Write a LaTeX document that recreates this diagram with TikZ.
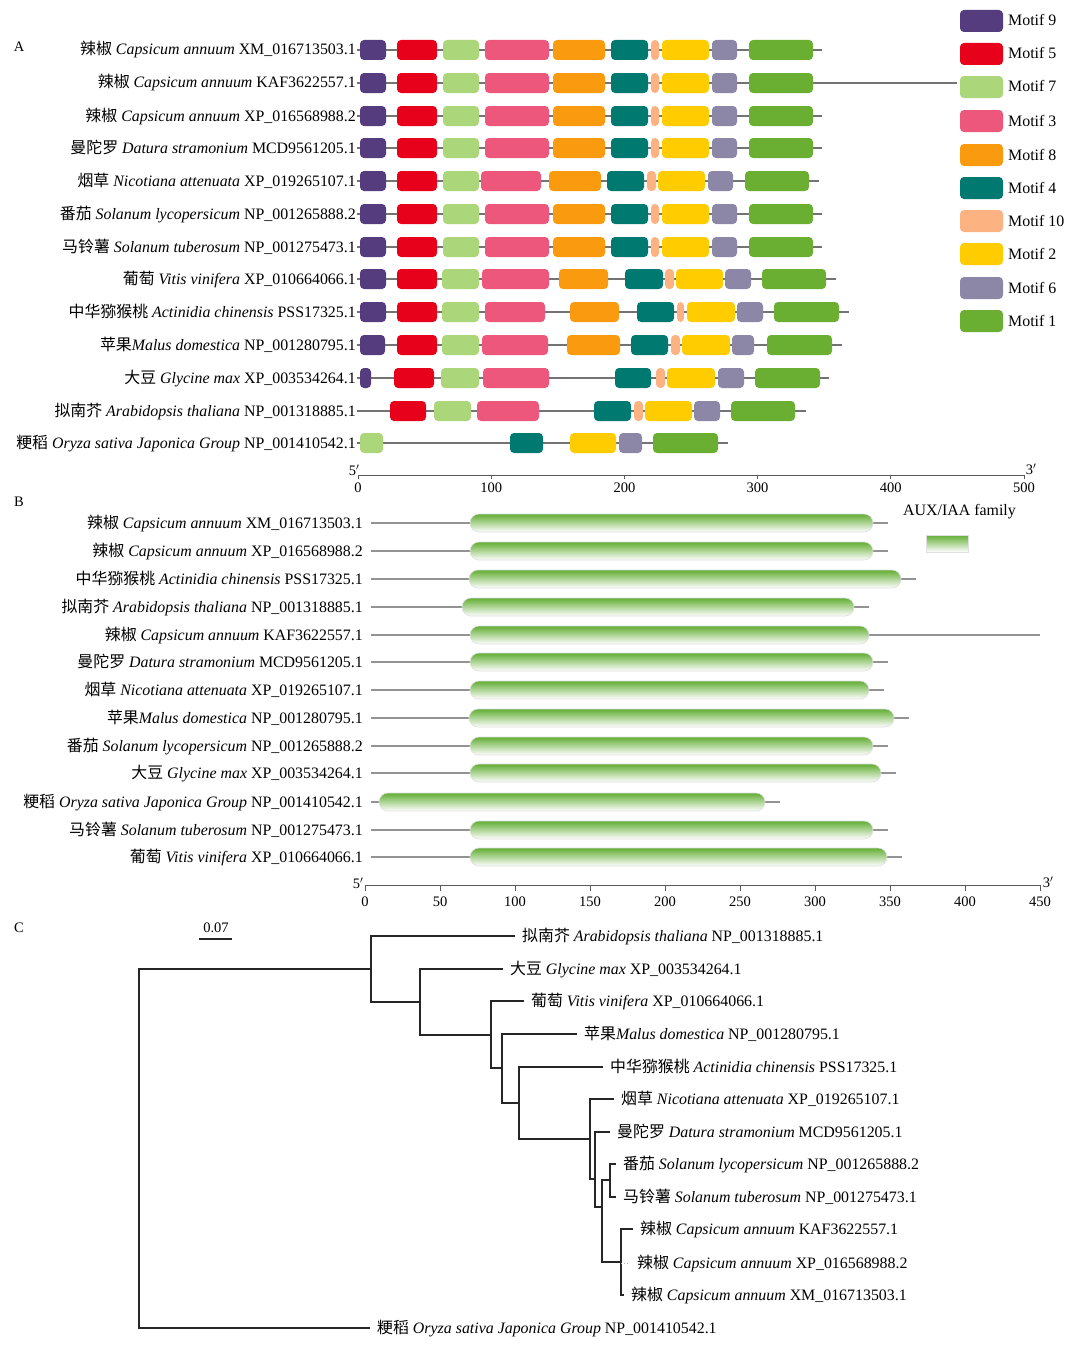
\documentclass[tikz,border=0pt]{standalone}
\usepackage{fontspec}
\setmainfont{Liberation Serif}
\newfontfamily\cjk{Noto Sans CJK SC}
\usetikzlibrary{positioning}

\definecolor{mNine}{HTML}{553C7F}
\definecolor{mFive}{HTML}{E8011A}
\definecolor{mSeven}{HTML}{ACD67A}
\definecolor{mThree}{HTML}{EE577C}
\definecolor{mEight}{HTML}{FA9A0E}
\definecolor{mFour}{HTML}{007A70}
\definecolor{mTen}{HTML}{FDB282}
\definecolor{mTwo}{HTML}{FFCC00}
\definecolor{mSix}{HTML}{8C87A6}
\definecolor{mOne}{HTML}{6AAF32}
\definecolor{barGreen}{HTML}{62AE34}

\tikzstyle{lab} = [inner sep=1pt, text height=12.5pt, text depth=2.5pt, font=\fontsize{15.9}{18}\selectfont]
\tikzstyle{leaf} = [lab, anchor=west, inner xsep=7pt]
\tikzstyle{tick} = [inner sep=1pt, font=\fontsize{14.5}{17}\selectfont]
\tikzstyle{panel} = [inner sep=1pt, font=\fontsize{14.5}{17}\selectfont]
\tikzstyle{backbone} = [draw=gray!90!black, line width=1.6pt]
\tikzstyle{bline} = [draw=gray!85, line width=2pt, shorten <=7pt]
\tikzstyle{motif} = [rounded corners=4pt]
\tikzstyle{bar} = [top color=barGreen, middle color=barGreen!55, bottom color=white, draw=gray!25, line width=0.6pt, rounded corners=9pt]
\tikzstyle{axis} = [draw=gray!70!black, line width=1pt]
\tikzstyle{branch} = [draw=black!85, line width=1.2pt]

\newcommand{\spCaXM}{{\cjk 辣椒} \textit{Capsicum annuum} XM\_016713503.1}
\newcommand{\spCaKAF}{{\cjk 辣椒} \textit{Capsicum annuum} KAF3622557.1}
\newcommand{\spCaXP}{{\cjk 辣椒} \textit{Capsicum annuum} XP\_016568988.2}
\newcommand{\spDs}{{\cjk 曼陀罗} \textit{Datura stramonium} MCD9561205.1}
\newcommand{\spNa}{{\cjk 烟草} \textit{Nicotiana attenuata} XP\_019265107.1}
\newcommand{\spSl}{{\cjk 番茄} \textit{Solanum lycopersicum} NP\_001265888.2}
\newcommand{\spSt}{{\cjk 马铃薯} \textit{Solanum tuberosum} NP\_001275473.1}
\newcommand{\spVv}{{\cjk 葡萄} \textit{Vitis vinifera} XP\_010664066.1}
\newcommand{\spAc}{{\cjk 中华猕猴桃} \textit{Actinidia chinensis} PSS17325.1}
\newcommand{\spMd}{{\cjk 苹果}\textit{Malus domestica} NP\_001280795.1}
\newcommand{\spGm}{{\cjk 大豆} \textit{Glycine max} XP\_003534264.1}
\newcommand{\spAt}{{\cjk 拟南芥} \textit{Arabidopsis thaliana} NP\_001318885.1}
\newcommand{\spOs}{{\cjk 粳稻} \textit{Oryza sativa Japonica Group} NP\_001410542.1}

% motif layout shared by most of the Solanaceae rows
\def\solrow{360/386/mNine, 397/437/mFive, 443/479/mSeven, 485/549/mThree, 553/605/mEight, 611/648/mFour, 651/659/mTen, 662/709/mTwo, 712/737/mSix, 749/813/mOne}

\begin{document}
\begin{tikzpicture}[x = 1pt, y = -1pt]

\fill[white] (0,0) rectangle (1080,1346);
\useasboundingbox (0,0) rectangle (1080,1346);

% helper grid (comment out once you're done!)
%\draw[help lines,step=50,gray!20] (0,0) grid (1080,1346);

% ----------------------------------------------------
% A: conserved motifs

\node[panel] (labA) at (19,47) {A};

\foreach \yy/\txt/\lend/\i in {50/\spCaXM/822/1, 83/\spCaKAF/957/2, 116/\spCaXP/822/3, 148/\spDs/822/4, 214/\spSl/822/6, 247/\spSt/822/7} {
  \node[lab, anchor=east] (a\i) at (357,\yy) {\txt};
  \coordinate (a\i-e) at (\lend,\yy);
  \draw[backbone] (a\i.east) -- (a\i-e);
  \foreach \ms/\me/\mc in \solrow
    \fill[\mc, motif] (\ms,\yy-10) rectangle (\me,\yy+10);
}

% Nicotiana
\node[lab, anchor=east] (a5) at (357,181) {\spNa};
\coordinate (a5-e) at (819,181);
\draw[backbone] (a5.east) -- (a5-e);
\foreach \ms/\me/\mc in {360/386/mNine, 397/437/mFive, 443/479/mSeven, 481/541/mThree, 549/601/mEight, 607/644/mFour, 647/656/mTen, 658/705/mTwo, 708/733/mSix, 745/809/mOne}
  \fill[\mc, motif] (\ms,171) rectangle (\me,191);

% Vitis
\node[lab, anchor=east] (a8) at (357,279) {\spVv};
\coordinate (a8-e) at (836,279);
\draw[backbone] (a8.east) -- (a8-e);
\foreach \ms/\me/\mc in {360/386/mNine, 397/437/mFive, 442/479/mSeven, 482/549/mThree, 559/608/mEight, 625/663/mFour, 665/674/mTen, 676/723/mTwo, 725/751/mSix, 762/826/mOne}
  \fill[\mc, motif] (\ms,269) rectangle (\me,289);

% Actinidia
\node[lab, anchor=east] (a9) at (357,312) {\spAc};
\coordinate (a9-e) at (849,312);
\draw[backbone] (a9.east) -- (a9-e);
\foreach \ms/\me/\mc in {360/386/mNine, 397/437/mFive, 442/479/mSeven, 485/545/mThree, 570/619/mEight, 637/674/mFour, 677/684/mTen, 687/735/mTwo, 737/763/mSix, 774/839/mOne}
  \fill[\mc, motif] (\ms,302) rectangle (\me,322);

% Malus
\node[lab, anchor=east] (a10) at (357,345) {\spMd};
\coordinate (a10-e) at (842,345);
\draw[backbone] (a10.east) -- (a10-e);
\foreach \ms/\me/\mc in {360/385/mNine, 397/437/mFive, 442/479/mSeven, 482/548/mThree, 567/620/mEight, 631/668/mFour, 671/680/mTen, 682/730/mTwo, 732/754/mSix, 767/832/mOne}
  \fill[\mc, motif] (\ms,335) rectangle (\me,355);

% Glycine
\node[lab, anchor=east] (a11) at (357,378) {\spGm};
\coordinate (a11-e) at (829,378);
\draw[backbone] (a11.east) -- (a11-e);
\foreach \ms/\me/\mc in {360/371/mNine, 394/434/mFive, 441/479/mSeven, 483/549/mThree, 615/651/mFour, 656/665/mTen, 667/715/mTwo, 718/744/mSix, 755/820/mOne}
  \fill[\mc, motif] (\ms,368) rectangle (\me,388);

% Arabidopsis
\node[lab, anchor=east] (a12) at (357,411) {\spAt};
\coordinate (a12-e) at (806,411);
\draw[backbone] (a12.east) -- (a12-e);
\foreach \ms/\me/\mc in {390/426/mFive, 434/471/mSeven, 477/539/mThree, 594/631/mFour, 634/643/mTen, 645/692/mTwo, 694/720/mSix, 731/795/mOne}
  \fill[\mc, motif] (\ms,401) rectangle (\me,421);

% Oryza
\node[lab, anchor=east] (a13) at (357,443) {\spOs};
\coordinate (a13-e) at (728,443);
\draw[backbone] (a13.east) -- (a13-e);
\foreach \ms/\me/\mc in {360/383/mSeven, 510/543/mFour, 570/616/mTwo, 619/642/mSix, 653/718/mOne}
  \fill[\mc, motif] (\ms,433) rectangle (\me,453);

% motif key
\foreach \mc/\num/\yy in {mNine/9/21, mFive/5/54, mSeven/7/87, mThree/3/121, mEight/8/155, mFour/4/188, mTen/10/221, mTwo/2/254, mSix/6/288, mOne/1/321} {
  \fill[\mc, motif] (960,\yy-11) rectangle (1003,\yy+11);
  \node[lab, anchor=west] (key\num) at (1007,\yy) {Motif \num};
}

% axis A
\coordinate (axA0) at (358,475);
\coordinate (axA1) at (1024,475);
\draw[axis] (axA0) -- (axA1);
\foreach \val in {0,100,...,500} {
  \draw[axis] (358+1.332*\val,475) -- ++(0,4);
  \node[tick] (tA\val) at (358+1.332*\val,488) {\val};
}
\node[tick] (fiveA) at (354,470) {5$'$};
\node[tick] (threeA) at (1031,469) {3$'$};

% ----------------------------------------------------
% B: AUX/IAA domain

\node[panel] (labB) at (19,502) {B};

\foreach \yy/\txt/\bs/\be/\lend [count=\i] in {523/\spCaXM/470/873/888, 551/\spCaXP/470/873/888, 579/\spAc/469/901/916, 607/\spAt/462/854/869, 635/\spCaKAF/470/869/1040, 662/\spDs/470/873/888, 690/\spNa/470/869/884, 718/\spMd/469/894/909, 746/\spSl/470/873/888, 773/\spGm/470/881/896, 802/\spOs/379/765/780, 830/\spSt/470/873/888, 857/\spVv/470/887/902} {
  \node[lab, anchor=east] (b\i) at (364,\yy) {\txt};
  \coordinate (b\i-e) at (\lend,\yy);
  \draw[bline] (b\i.east) -- (b\i-e);
  \shadedraw[bar] (\bs,\yy-9) rectangle (\be,\yy+9);
}

% family key
\node[lab, anchor=west] (famlab) at (902,510) {AUX/IAA family};
\shadedraw[bar, rounded corners=0pt] (926,535) rectangle (968,552);

% axis B
\coordinate (axB0) at (365,885);
\coordinate (axB1) at (1040,885);
\draw[axis] (axB0) -- (axB1);
\foreach \val in {0,50,...,450} {
  \draw[axis] (365+1.5*\val,885) -- ++(0,6);
  \node[tick] (tB\val) at (365+1.5*\val,902) {\val};
}
\node[tick] (fiveB) at (358,883) {5$'$};
\node[tick] (threeB) at (1048,882) {3$'$};

% ----------------------------------------------------
% C: phylogenetic tree

\node[panel] (labC) at (19,928) {C};

% scale bar
\node[tick] (sbar) at (216,928) {0.07};
\coordinate (sb0) at (199,939);
\coordinate (sb1) at (232,939);
\draw[branch] (sb0) -- (sb1);

% leaves
\node[leaf] (tAt) at (515,936) {\spAt};
\node[leaf] (tGm) at (503,969) {\spGm};
\node[leaf] (tVv) at (524,1001) {\spVv};
\node[leaf] (tMd) at (577,1034) {\spMd};
\node[leaf] (tAc) at (603,1067) {\spAc};
\node[leaf] (tNa) at (614,1099) {\spNa};
\node[leaf] (tDs) at (610,1132) {\spDs};
\node[leaf] (tSl) at (616,1164) {\spSl};
\node[leaf] (tSt) at (616,1197) {\spSt};
\node[leaf] (tKAF) at (633,1229) {\spCaKAF};
\node[leaf] (tXP) at (630,1263) {\spCaXP};
\node[leaf] (tXM) at (624,1295) {\spCaXM};
\node[leaf] (tOs) at (370,1328) {\spOs};

% inner nodes
\coordinate (r) at (139,1148);
\coordinate (n1) at (371,969);
\coordinate (n2) at (420,1002);
\coordinate (n3) at (491,1035);
\coordinate (n4) at (502,1068);
\coordinate (n5) at (519,1103);
\coordinate (n6) at (590,1139);
\coordinate (n7) at (595,1179);
\coordinate (n8) at (602,1207);
\coordinate (n9) at (610,1180);
\coordinate (n10) at (621,1262);

\draw[branch] (n1) -| (r) |- (tOs.west);
\draw[branch] (tAt.west) -| (n1) |- (n2);
\draw[branch] (tGm.west) -| (n2) |- (n3);
\draw[branch] (tVv.west) -| (n3) |- (n4);
\draw[branch] (tMd.west) -| (n4) |- (n5);
\draw[branch] (tAc.west) -| (n5) |- (n6);
\draw[branch] (tNa.west) -| (n6) |- (n7);
\draw[branch] (tDs.west) -| (n7) |- (n8);
\draw[branch] (n9) -| (n8) |- (n10);
\draw[branch] (tSl.west) -| (n9) |- (tSt.west);
\draw[branch] (tKAF.west) -| (n10) |- (tXM.west);
\draw[gray!60, dotted, line width=1pt] (n10 |- tXP.west) -- (tXP.west);

\end{tikzpicture}
\end{document}
